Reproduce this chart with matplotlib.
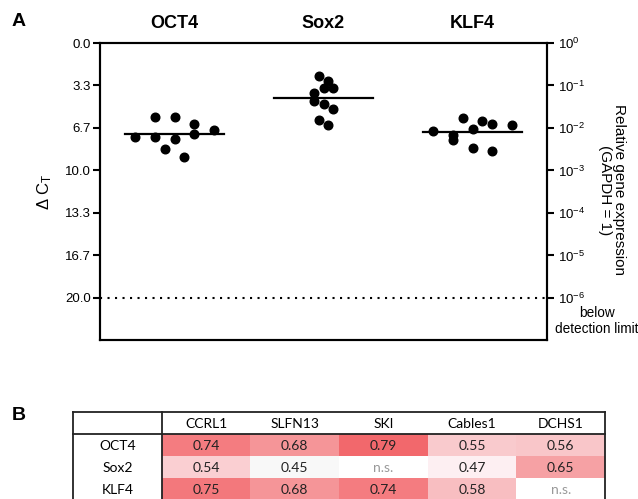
import numpy as np
import matplotlib
matplotlib.use("Agg")
import matplotlib.pyplot as plt
from matplotlib.colors import LinearSegmentedColormap

plt.rcParams['font.family'] = ['Liberation Sans', 'DejaVu Sans']
plt.rcParams['mathtext.fontset'] = 'custom'
plt.rcParams['mathtext.rm'] = 'Liberation Sans'
plt.rcParams['mathtext.it'] = 'Liberation Sans:italic'
plt.rcParams['mathtext.bf'] = 'Liberation Sans:bold'

# ---------------- data ----------------
genes = ["OCT4", "Sox2", "KLF4"]
oct4_dct = [7.40, 5.78, 7.40, 8.34, 5.78, 7.53, 8.97, 6.35, 7.11, 6.82]
sox2_dct = [2.59, 2.98, 3.90, 3.53, 3.53, 4.53, 4.78, 5.18, 6.04, 6.46]
klf4_dct = [6.90, 7.22, 7.61, 5.86, 6.75, 8.21, 6.09, 6.38, 8.47, 6.46]
# swarm slot index of each point (horizontal spread within a group)
oct4_slot = [-4, -2, -2, -1, 0, 0, 1, 2, 2, 4]
sox2_slot = [-0.5, 0.5, -1, 0, 1, -1, 0, 1, -0.5, 0.5]
klf4_slot = [-4, -2, -2, -1, 0, 0, 1, 2, 2, 4]

left_ticks = [0.0, 20/6, 40/6, 10.0, 80/6, 100/6, 20.0]
left_ticklabels = ["0.0", "3.3", "6.7", "10.0", "13.3", "16.7", "20.0"]
right_ticklabels = [r"$10^{0}$", r"$10^{-1}$", r"$10^{-2}$", r"$10^{-3}$",
                    r"$10^{-4}$", r"$10^{-5}$", r"$10^{-6}$"]
detection_limit = 20.0

table_cols = ["CCRL1", "SLFN13", "SKI", "Cables1", "DCHS1"]
table_rows = ["OCT4", "Sox2", "KLF4"]
table_vals = [
    [0.74, 0.68, 0.79, 0.55, 0.56],
    [0.54, 0.45, None, 0.47, 0.65],
    [0.75, 0.68, 0.74, 0.58, None],
]

# ---------------- figure ----------------
W, H = 638, 499
fig = plt.figure(figsize=(W/100, H/100), dpi=100)

ax = fig.add_axes([100/W, 1-340/H, 447/W, 297/H])
step = 9.8/149.0
groups = [oct4_dct, sox2_dct, klf4_dct]
slots = [oct4_slot, sox2_slot, klf4_slot]
for i, (vals, sl) in enumerate(zip(groups, slots)):
    xs = i + np.array(sl) * step
    ax.plot(xs, vals, 'o', color='black', ms=6.2, mec='black', zorder=3)
    m = np.mean(vals)
    ax.plot([i-0.33, i+0.33], [m, m], color='black', lw=1.6, zorder=2)

ax.axhline(detection_limit, color='black', lw=1.5, dashes=(1, 2.6))
ax.set_xlim(-0.5, 2.5)
ax.set_ylim(23.3, 0)
ax.set_xticks([])
ax.set_yticks(left_ticks)
ax.set_yticklabels(left_ticklabels, fontsize=9.5)
ax.tick_params(axis='y', direction='out', length=5, width=1.5, pad=1.5)
for s in ax.spines.values():
    s.set_linewidth(1.5)
ax.set_ylabel(r"$\Delta$ C$_\mathrm{T}$", fontsize=12, labelpad=8)

ax2 = ax.twinx()
ax2.set_ylim(23.3, 0)
ax2.set_yticks(left_ticks)
ax2.set_yticklabels(right_ticklabels, fontsize=9.5)
ax2.tick_params(axis='y', direction='out', length=5, width=1.5, pad=3)
for s in ax2.spines.values():
    s.set_linewidth(1.5)

for i, g in enumerate(genes):
    ax.text(i, -0.85, g, ha='center', va='bottom', fontsize=13, fontweight='bold')

fig.text(612/W, 1-190/H, "Relative gene expression\n(GAPDH = 1)", rotation=-90,
         ha='center', va='center', fontsize=11, linespacing=1.0)
fig.text(597/W, 1-321/H, "below\ndetection limit", ha='center', va='center',
         fontsize=9.8, linespacing=1.1)

fig.text(12/W, 1-21/H, "A", fontsize=14, fontweight='bold', va='center', ha='left')
fig.text(12/W, 1-415/H, "B", fontsize=14, fontweight='bold', va='center', ha='left')

# ---------------- table ----------------
axt = fig.add_axes([73/W, (H-500)/H, 532/W, 88/H])
axt.set_xlim(0, 6)
axt.set_ylim(4, 0)
axt.axis('off')
cmap = LinearSegmentedColormap.from_list(
    "pinkred", [(0.0, "#f8f8f8"), (0.06, "#fdeef1"), (0.3, "#f9c8cb"), (1.0, "#f26468")])
cmap.set_bad("white")
arr = np.array([[np.nan if v is None else v for v in row] for row in table_vals])
axt.pcolormesh(np.arange(1, 7), np.arange(1, 5), np.ma.masked_invalid(arr),
               cmap=cmap, vmin=0.45, vmax=0.80, shading='flat')
tfont = ['Lato', 'DejaVu Sans']
fs = 10
for j, c in enumerate(table_cols):
    axt.text(j + 1.5, 0.55, c, ha='center', va='center', fontsize=fs, family=tfont)
for r, name in enumerate(table_rows):
    axt.text(0.5, r + 1.55, name, ha='center', va='center', fontsize=fs, family=tfont)
    for j, v in enumerate(table_vals[r]):
        if v is None:
            axt.text(j + 1.5, r + 1.55, "n.s.", ha='center', va='center',
                     fontsize=fs, family=tfont, color='#999999')
        else:
            axt.text(j + 1.5, r + 1.55, f"{v:.2f}", ha='center', va='center',
                     fontsize=fs, family=tfont, color='#222222')
lc = '#222222'
lw = 1.3
axt.plot([0, 6], [0, 0], color=lc, lw=lw, clip_on=False)
axt.plot([0, 6], [1, 1], color=lc, lw=lw, clip_on=False)
axt.plot([0, 0], [0, 4], color=lc, lw=lw, clip_on=False)
axt.plot([6, 6], [0, 4], color=lc, lw=lw, clip_on=False)
axt.plot([1, 1], [0, 4], color=lc, lw=lw, clip_on=False)
axt.plot([0, 6], [4, 4], color=lc, lw=lw, clip_on=False)

fig.savefig("out.png", dpi=100)
